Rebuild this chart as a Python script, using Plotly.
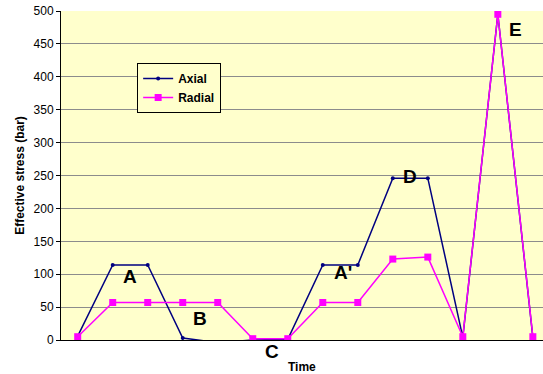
import plotly.graph_objects as go

# Loading sequence (each step on the time axis)
steps = list(range(14))
axial = [6, 114, 114, 3, -4, 0, 1, 114, 114, 246, 246, 4, 495, 4]
radial = [5, 57, 57, 57, 57, 2, 2, 57, 57, 123, 126, 5, 495, 5]

# Stage labels: (text, step position, stress)
stage_text = ["A", "B", "C", "A'", "D", "E"]
stage_x = [1.5, 3.5, 5.55, 7.57, 9.5, 12.5]
stage_y = [96, 33, -18, 102, 249, 472]

y_ticks = list(range(0, 501, 50))
Y_MAX = 500

FONT = "Liberation Sans, Arial, sans-serif"

fig = go.Figure()
fig.add_trace(go.Scatter(
    x=steps, y=axial, name="<b>Axial</b>", mode="lines+markers",
    line=dict(color="#000080", width=1.5),
    marker=dict(symbol="circle", size=4, color="#000080"),
))
fig.add_trace(go.Scatter(
    x=steps, y=radial, name="<b>Radial</b>", mode="lines+markers",
    line=dict(color="#FF00FF", width=1.5),
    marker=dict(symbol="square", size=7, color="#FF00FF"),
))

# Stage letters are placed in paper coordinates so labels below the axis still show
for t, x, y in zip(stage_text, stage_x, stage_y):
    fig.add_annotation(x=x, y=y / Y_MAX, yref="paper", text="<b>%s</b>" % t,
                       showarrow=False, xanchor="center", yanchor="middle",
                       font=dict(family=FONT, size=19, color="black"))

fig.add_annotation(x=0.5, y=-0.056, xref="paper", yref="paper", text="<b>Time</b>",
                   showarrow=False, xanchor="center", yanchor="top",
                   font=dict(family=FONT, size=12, color="black"))

fig.update_layout(
    width=543, height=374,
    margin=dict(l=61, r=0, t=11, b=34),
    paper_bgcolor="white",
    plot_bgcolor="#FFFFCC",
    font=dict(family=FONT, size=12, color="black"),
    showlegend=True,
    legend=dict(
        x=0.158, y=0.842, xanchor="left", yanchor="top",
        bgcolor="#FFFFCC", bordercolor="black", borderwidth=1,
        font=dict(family=FONT, size=12, color="black"),
        itemwidth=30, tracegroupgap=2,
    ),
    xaxis=dict(
        range=[-0.477, 13.29], showticklabels=False, ticks="",
        showgrid=False, zeroline=False,
        showline=True, linecolor="black", linewidth=1,
    ),
    yaxis=dict(
        range=[0, Y_MAX], tickvals=y_ticks, showgrid=True,
        gridcolor="#8C8C8C", gridwidth=1, zeroline=False,
        showline=True, linecolor="black", linewidth=1,
        ticks="outside", ticklen=4, tickcolor="black",
        tickfont=dict(family=FONT, size=12, color="black"),
        title=dict(text="<b>Effective stress (bar)</b>", standoff=6,
                   font=dict(family=FONT, size=12, color="black")),
    ),
)

fig.write_html("out.html")
